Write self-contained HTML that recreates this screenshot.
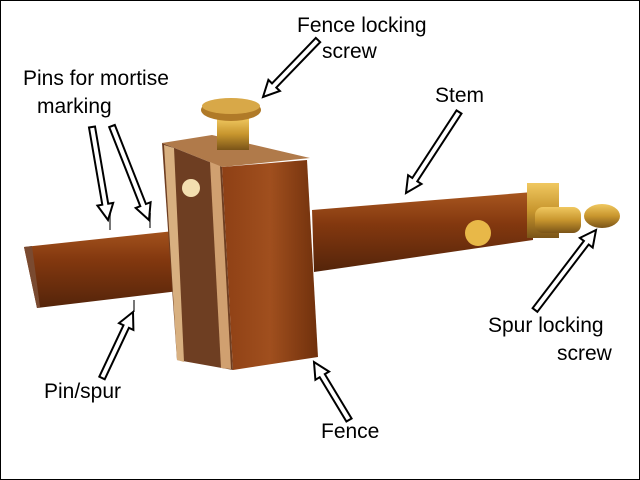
<!DOCTYPE html>
<html><head><meta charset="utf-8"><style>
html,body{margin:0;padding:0;background:#fff}
svg{display:block}
text{font-family:"Liberation Sans",Arial,sans-serif;font-size:21px;fill:#000}
</style></head><body>
<svg id="s" width="640" height="480" viewBox="0 0 640 480" xmlns="http://www.w3.org/2000/svg">
<defs>
<linearGradient id="wood" x1="0" y1="0" x2="0" y2="1">
<stop offset="0" stop-color="#a8561f"/><stop offset="0.4" stop-color="#83380f"/><stop offset="1" stop-color="#54240a"/></linearGradient>
<linearGradient id="woodv" x1="0" y1="0" x2="1" y2="0">
<stop offset="0" stop-color="#8e4015"/><stop offset="0.5" stop-color="#a04f1e"/><stop offset="1" stop-color="#70300c"/></linearGradient>
<linearGradient id="brass" x1="0" y1="0" x2="0" y2="1">
<stop offset="0" stop-color="#f0c860"/><stop offset="0.5" stop-color="#c8962e"/><stop offset="1" stop-color="#7a5418"/></linearGradient>
</defs>
<rect x="0.5" y="0.5" width="639" height="479" fill="#fff" stroke="#000"/>
<polygon points="312,210 533,192 533,240 314,272" fill="url(#wood)"/>
<rect x="527" y="183" width="32" height="55" fill="url(#brass)"/>
<circle cx="478" cy="233" r="13" fill="#e8b848"/>
<rect x="535" y="207" width="46" height="26" rx="8" fill="url(#brass)"/>
<ellipse cx="602" cy="216" rx="18" ry="12" fill="url(#brass)"/>
<polygon points="24,247 212,227 212,287 37,308" fill="url(#wood)"/>
<polygon points="24,247 32,246 40,307 37,308" fill="#7a4a30"/>
<line x1="110" y1="230" x2="110" y2="213" stroke="#777" stroke-width="2"/>
<line x1="150" y1="228" x2="150" y2="213" stroke="#777" stroke-width="2"/>
<line x1="134" y1="300" x2="134" y2="312" stroke="#777" stroke-width="2"/>
<polygon points="162,143 212,135 310,158 222,167" fill="#b07a4a"/>
<polygon points="162,143 222,167 233,370 177,360" fill="#6e3e22"/>
<polygon points="164,145 174,148 184,362 177,360" fill="#d8b080"/>
<polygon points="210,162 220,166 231,369 221,368" fill="#d0a070"/>
<circle cx="191" cy="188" r="9" fill="#f3dfb0"/>
<polygon points="222,167 307,160 318,357 233,370" fill="url(#woodv)"/>
<rect x="217" y="118" width="32" height="32" fill="url(#brass)"/>
<ellipse cx="231" cy="110" rx="30" ry="11" fill="#b07a28"/>
<ellipse cx="231" cy="106" rx="29" ry="8" fill="#d8a848"/>
<g id="ar"></g>
<text x="297" y="32">Fence locking</text>
<text x="322" y="58">screw</text>
<text x="23" y="85">Pins for mortise</text>
<text x="37" y="113">marking</text>
<text x="435" y="102">Stem</text>
<text x="488" y="332">Spur locking</text>
<text x="557" y="360">screw</text>
<text x="44" y="398">Pin/spur</text>
<text x="321" y="438">Fence</text>
</svg>
<script>
var A=[[318,40,263,97],[92,127,108,220],[112,126,149,220],[459,112,406,193],[535,310,596,230],[102,378,133,312],[349,420,314,362]];
var g=document.getElementById('ar'),h='';
A.forEach(function(a){
var dx=a[2]-a[0],dy=a[3]-a[1],L=Math.sqrt(dx*dx+dy*dy),ux=dx/L,uy=dy/L,px=-uy,py=ux;
var hl=16,bx=a[2]-ux*hl,by=a[3]-uy*hl,sw=3;
var p=[[a[0]+px*sw,a[1]+py*sw],[bx+px*sw,by+py*sw],[bx+px*8,by+py*8],[a[2],a[3]],[bx-px*8,by-py*8],[bx-px*sw,by-py*sw],[a[0]-px*sw,a[1]-py*sw]];
h+='<polygon points="'+p.map(function(q){return q[0].toFixed(1)+','+q[1].toFixed(1)}).join(' ')+'" fill="#fff" stroke="#000" stroke-width="2"/>';
});
g.innerHTML=h;
</script>
</body></html>
